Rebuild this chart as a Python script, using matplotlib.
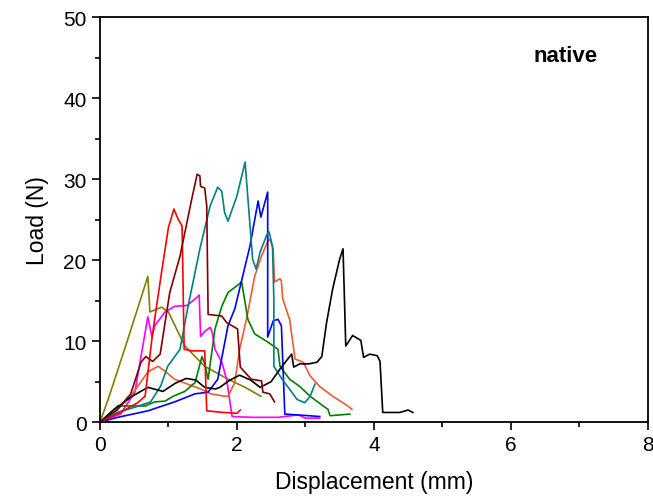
import matplotlib.pyplot as plt
from matplotlib.ticker import MultipleLocator

plt.rcParams['font.family'] = ['Liberation Sans', 'DejaVu Sans']

# load-displacement curves (mm, N)
black_x = [0, 0.2, 0.45, 0.7, 0.92, 1.1, 1.26, 1.4, 1.53, 1.69, 1.75, 1.9, 2.04, 2.2, 2.34, 2.5, 2.65, 2.8, 2.83, 2.92, 3.05, 3.17, 3.24, 3.31, 3.4, 3.5, 3.55, 3.59, 3.69, 3.81, 3.85, 3.94, 4.05, 4.09, 4.13, 4.38, 4.5, 4.57]
black_y = [0, 1.5, 3.1, 4.3, 3.8, 4.8, 5.4, 5.2, 4.3, 4.1, 4.3, 5.2, 5.8, 5.2, 4.3, 5.0, 6.8, 8.4, 6.8, 7.2, 7.2, 7.4, 8.1, 12.3, 16.5, 20.1, 21.4, 9.4, 10.7, 10.1, 8.0, 8.4, 8.2, 7.5, 1.2, 1.2, 1.5, 1.2]

red_x = [0, 0.3, 0.55, 0.66, 0.77, 0.9, 1.0, 1.08, 1.14, 1.2, 1.23, 1.34, 1.53, 1.56, 1.8, 2.0, 2.05]
red_y = [0, 1.2, 2.4, 3.2, 11.0, 18.5, 24.0, 26.3, 25.1, 24.2, 9.0, 8.8, 8.8, 1.4, 1.2, 1.1, 1.5]

maroon_x = [0, 0.25, 0.45, 0.6, 0.67, 0.77, 0.88, 1.02, 1.17, 1.34, 1.42, 1.46, 1.47, 1.53, 1.56, 1.58, 1.78, 1.85, 2.01, 2.05, 2.21, 2.36, 2.38, 2.48, 2.55]
maroon_y = [0, 1.5, 3.5, 7.4, 8.1, 7.5, 8.4, 16.0, 20.5, 27.5, 30.6, 30.4, 29.1, 28.9, 26.7, 13.3, 13.1, 12.3, 11.5, 6.8, 5.3, 5.1, 3.7, 3.5, 2.5]

teal_x = [0, 0.25, 0.53, 0.74, 0.89, 0.99, 1.17, 1.28, 1.46, 1.61, 1.72, 1.78, 1.82, 1.87, 2.0, 2.12, 2.23, 2.28, 2.34, 2.44, 2.47, 2.52, 2.54, 2.54, 2.66, 2.75, 2.88, 2.99, 3.07, 3.14]
teal_y = [0, 1.2, 1.9, 2.5, 4.5, 6.9, 9.0, 14.0, 21.4, 26.7, 29.0, 28.5, 25.9, 24.8, 27.9, 32.1, 20.1, 18.9, 21.0, 23.2, 23.5, 21.7, 15.2, 6.9, 5.3, 4.3, 2.8, 2.4, 3.2, 4.7]

blue_x = [0, 0.26, 0.7, 1.09, 1.39, 1.58, 1.72, 1.87, 1.97, 2.19, 2.31, 2.35, 2.45, 2.45, 2.53, 2.6, 2.65, 2.7, 2.88, 3.21]
blue_y = [0, 0.6, 1.4, 2.5, 3.5, 3.7, 5.3, 11.9, 14.0, 21.7, 27.3, 25.3, 28.4, 10.5, 12.5, 12.7, 11.9, 1.0, 0.9, 0.7]

green_x = [0, 0.26, 0.66, 0.8, 0.95, 1.07, 1.24, 1.39, 1.49, 1.53, 1.58, 1.68, 1.78, 1.87, 2.07, 2.16, 2.26, 2.45, 2.6, 2.63, 2.77, 2.92, 3.07, 3.26, 3.33, 3.36, 3.65]
green_y = [0, 2.0, 2.0, 2.5, 2.6, 3.2, 3.8, 4.9, 8.1, 7.2, 5.3, 11.5, 14.3, 16.0, 17.3, 12.7, 10.9, 9.9, 9.0, 6.9, 5.3, 4.4, 3.2, 2.0, 1.6, 0.8, 1.0]

olive_x = [0, 0.12, 0.36, 0.58, 0.70, 0.73, 0.9, 1.0, 1.12, 1.24, 1.53, 1.87, 2.12, 2.35]
olive_y = [0, 2.8, 9.0, 14.8, 18.0, 13.6, 14.2, 13.6, 11.5, 9.4, 6.9, 5.3, 4.3, 3.2]

magenta_x = [0, 0.3, 0.51, 0.6, 0.7, 0.76, 0.8, 0.95, 1.09, 1.27, 1.39, 1.45, 1.47, 1.53, 1.61, 1.64, 1.68, 1.78, 1.85, 1.93, 2.22, 2.6, 2.9, 3.0, 3.21]
magenta_y = [0, 1.0, 3.7, 8.1, 13.0, 10.5, 11.9, 13.6, 14.3, 14.4, 15.2, 15.7, 10.6, 11.2, 11.7, 11.1, 9.0, 7.4, 5.3, 0.7, 0.6, 0.6, 0.9, 0.5, 0.5]

coral_x = [0, 0.25, 0.45, 0.7, 0.85, 0.95, 1.09, 1.28, 1.47, 1.62, 1.82, 1.87, 1.97, 2.04, 2.15, 2.26, 2.36, 2.45, 2.48, 2.53, 2.55, 2.63, 2.65, 2.67, 2.77, 2.85, 2.97, 3.07, 3.21, 3.4, 3.62, 3.68]
coral_y = [0, 1.5, 3.2, 6.2, 6.9, 6.3, 5.3, 4.7, 4.1, 3.5, 3.2, 3.2, 4.9, 9.0, 13.1, 18.0, 20.5, 22.3, 22.6, 21.4, 17.3, 17.7, 17.4, 15.2, 12.7, 7.8, 7.4, 5.7, 4.4, 3.2, 2.0, 1.6]

curves = [
    (olive_x, olive_y, '#808000'),
    (magenta_x, magenta_y, '#ff00ff'),
    (coral_x, coral_y, '#f05a32'),
    (green_x, green_y, '#008000'),
    (blue_x, blue_y, '#0000ff'),
    (teal_x, teal_y, '#008080'),
    (black_x, black_y, '#000000'),
    (red_x, red_y, '#ff0000'),
    (maroon_x, maroon_y, '#800000'),
]

fig = plt.figure(figsize=(6.53, 5.02), dpi=100)
ax = fig.add_axes([0.153, 0.157, 0.839, 0.807])

for xs, ys, c in curves:
    ax.plot(xs, ys, color=c, linewidth=1.2)

ax.set_xlim(0, 8)
ax.set_ylim(0, 50)
ax.xaxis.set_major_locator(MultipleLocator(2))
ax.xaxis.set_minor_locator(MultipleLocator(1))
ax.yaxis.set_major_locator(MultipleLocator(10))
ax.yaxis.set_minor_locator(MultipleLocator(5))
ax.tick_params(which='major', direction='out', length=6, width=1.2, labelsize=15)
ax.tick_params(which='minor', direction='out', length=3.5, width=1.2)
for s in ax.spines.values():
    s.set_linewidth(1.3)

ax.set_xlabel('Displacement (mm)', fontsize=16.5, labelpad=11)
ax.set_ylabel('Load (N)', fontsize=16.5, labelpad=10)
ax.text(6.8, 45.2, 'native', fontsize=16, fontweight='bold', ha='center', va='center')

plt.savefig('out.png', dpi=100)
plt.close()
